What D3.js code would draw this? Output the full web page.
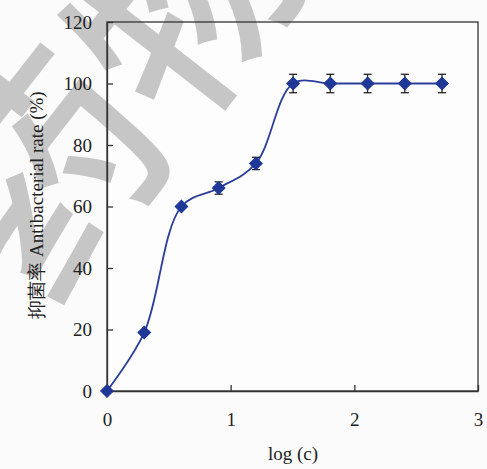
<!DOCTYPE html>
<html>
<head>
<meta charset="utf-8">
<script src="https://cdn.jsdelivr.net/npm/d3@7"></script>
<style>
  html, body { margin: 0; padding: 0; background: #fbfbfb; }
  svg { display: block; }
</style>
</head>
<body>
<svg id="chart" width="487" height="469"></svg>
<script>
// ---- data ----
const logC = [0, 0.301, 0.602, 0.903, 1.204, 1.505, 1.806, 2.107, 2.408, 2.709];
const rate = [0, 19, 60, 66, 74, 100, 100, 100, 100, 100];
const err  = [0, 0, 0, 2, 2, 3, 3, 3, 3, 3];
const xTicks = [0, 1, 2, 3];
const yTicks = [0, 20, 40, 60, 80, 100, 120];
const xLabel = "log (c)";
const yLabel = "抑菌率 Antibacterial rate (%)";
const watermark = "药物";

const svg = d3.select("#chart");
const W = 487, H = 469;
const m = { left: 107, right: 9, top: 22, bottom: 78 };

const x = d3.scaleLinear().domain([0, 3]).range([m.left, W - m.right]);
const y = d3.scaleLinear().domain([0, 120]).range([H - m.bottom, m.top]);

const axisColor = "#333";
const mainColor = "#1f3797";
const font = "'Liberation Serif', 'Times New Roman', serif";

// plot background
svg.append("rect")
  .attr("x", x(0)).attr("y", y(120))
  .attr("width", x(3) - x(0)).attr("height", y(0) - y(120))
  .attr("fill", "#fdfdfd").attr("stroke", "none");

// watermark (beneath labels and data)
svg.append("text")
  .attr("transform", "translate(46,310) rotate(-52)")
  .attr("font-family", "'Noto Sans CJK SC', sans-serif")
  .attr("font-weight", 500)
  .attr("font-size", 220)
  .attr("fill", "#c6c6c6")
  .text(watermark);

// frame
svg.append("rect")
  .attr("x", x(0)).attr("y", y(120))
  .attr("width", x(3) - x(0)).attr("height", y(0) - y(120))
  .attr("fill", "none").attr("stroke", axisColor).attr("stroke-width", 1.3);

// axes (ticks inward)
const xAxis = d3.axisBottom(x).tickValues(xTicks).tickSizeInner(-6).tickSizeOuter(0).tickPadding(22).tickFormat(d3.format("d"));
const gx = svg.append("g").attr("transform", `translate(0,${y(0)})`).call(xAxis);
gx.select(".domain").attr("stroke", axisColor).attr("stroke-width", 1.3);
gx.selectAll(".tick line").attr("stroke", axisColor).attr("stroke-width", 1.3);
gx.selectAll(".tick text").attr("font-family", font).attr("font-size", 19).attr("fill", "#222");

const yAxis = d3.axisLeft(y).tickValues(yTicks).tickSizeInner(-6).tickSizeOuter(0).tickPadding(15).tickFormat(d3.format("d"));
const gy = svg.append("g").attr("transform", `translate(${x(0)},0)`).call(yAxis);
gy.select(".domain").attr("stroke", axisColor).attr("stroke-width", 1.3);
gy.selectAll(".tick line").attr("stroke", axisColor).attr("stroke-width", 1.3);
gy.selectAll(".tick text").attr("font-family", font).attr("font-size", 19).attr("fill", "#222");

// axis labels
svg.append("text")
  .attr("x", 293).attr("y", 460)
  .attr("text-anchor", "middle")
  .attr("font-family", font).attr("font-size", 19).attr("fill", "#222")
  .text(xLabel);

svg.append("text")
  .attr("transform", `translate(43,205) rotate(-90)`)
  .attr("text-anchor", "middle")
  .attr("font-family", font).attr("font-size", 19).attr("fill", "#222")
  .text(yLabel);

const data = logC.map((d, i) => ({ x: d, y: rate[i], e: err[i] }));

// smooth line
const line = d3.line().x(d => x(d.x)).y(d => y(d.y)).curve(d3.curveCatmullRom.alpha(0.5));
svg.append("path").datum(data)
  .attr("d", line).attr("fill", "none")
  .attr("stroke", "#2a3d99").attr("stroke-width", 1.8);

// error bars
const eb = svg.append("g").attr("stroke", "#222").attr("stroke-width", 1.3);
data.filter(d => d.e > 0).forEach(d => {
  eb.append("line").attr("x1", x(d.x)).attr("x2", x(d.x)).attr("y1", y(d.y - d.e)).attr("y2", y(d.y + d.e));
  eb.append("line").attr("x1", x(d.x) - 4).attr("x2", x(d.x) + 4).attr("y1", y(d.y - d.e)).attr("y2", y(d.y - d.e));
  eb.append("line").attr("x1", x(d.x) - 4).attr("x2", x(d.x) + 4).attr("y1", y(d.y + d.e)).attr("y2", y(d.y + d.e));
});

// diamond markers
svg.append("g").selectAll("path").data(data).join("path")
  .attr("transform", d => `translate(${x(d.x)},${y(d.y)}) rotate(45)`)
  .attr("d", d3.symbol().type(d3.symbolSquare).size(80))
  .attr("fill", mainColor).attr("stroke", mainColor).attr("stroke-width", 1);
</script>
</body>
</html>
